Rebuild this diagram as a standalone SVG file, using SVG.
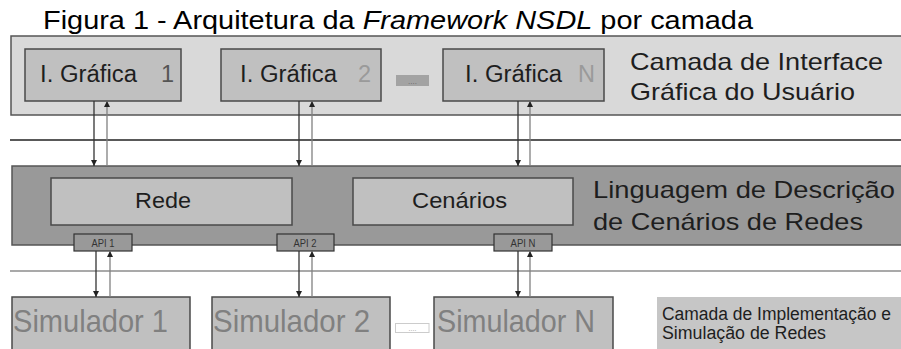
<svg xmlns="http://www.w3.org/2000/svg" width="901" height="349" viewBox="0 0 901 349">
<defs>
<style>
text{font-family:"Liberation Sans",Arial,sans-serif;}
.band{stroke:#555;stroke-width:1.5;}
.box{fill:#c0c0c0;stroke:#4a4a4a;stroke-width:1.5;}
.lbl{font-size:23.5px;fill:#1e1e1e;}
.big{font-size:24px;fill:#1e1e1e;}
.api{fill:#999;stroke:#333;stroke-width:1.2;}
.apit{font-size:11px;fill:#333;text-anchor:middle;}
.sim{font-size:32px;fill:#808080;}
.dn{stroke:#333;stroke-width:1.3;fill:none;marker-end:url(#hd);}
.up{stroke:#808080;stroke-width:1.3;fill:none;marker-end:url(#hu);}
.hl{stroke:#222;stroke-width:1.3;}
</style>
<marker id="hd" markerUnits="userSpaceOnUse" markerWidth="6" markerHeight="6" refX="6" refY="3" orient="auto"><path d="M0,0 L6,3 L0,6 z" fill="#222"/></marker>
<marker id="hu" markerUnits="userSpaceOnUse" markerWidth="6" markerHeight="6" refX="6" refY="3" orient="auto"><path d="M0,0 L6,3 L0,6 z" fill="#222"/></marker>
</defs>
<rect width="901" height="349" fill="#fff"/>
<text id="title" x="43" y="29" font-size="26" fill="#000" textLength="710" lengthAdjust="spacingAndGlyphs">Figura 1 - Arquitetura da <tspan font-style="italic">Framework NSDL</tspan> por camada</text>

<g id="layer-gui">
<rect x="11" y="36" width="895" height="79" fill="#d9d9d9" class="band"/>
<text class="big" x="630" y="70" textLength="253" lengthAdjust="spacingAndGlyphs">Camada de Interface</text>
<text class="big" x="630" y="100" textLength="225" lengthAdjust="spacingAndGlyphs">Gráfica do Usuário</text>
</g>
<g id="gui1">
<rect class="box" x="25" y="49" width="156" height="52"/>
<text class="lbl" x="40" y="82" textLength="97" lengthAdjust="spacingAndGlyphs">I. Gráfica</text>
<text class="lbl" x="161" y="82" style="fill:#555">1</text>
</g>
<g id="gui2">
<rect class="box" x="221" y="49" width="160" height="52"/>
<text class="lbl" x="240" y="82" textLength="97" lengthAdjust="spacingAndGlyphs">I. Gráfica</text>
<text class="lbl" x="358" y="82" style="fill:#9a9a9a">2</text>
</g>
<g id="gui-dots">
<rect x="396" y="75" width="33" height="11" fill="#a3a3a3"/>
<text x="412.5" y="84" font-size="8" fill="#666" text-anchor="middle">....</text>
</g>
<g id="guiN">
<rect class="box" x="443" y="49" width="161" height="52"/>
<text class="lbl" x="465" y="82" textLength="97" lengthAdjust="spacingAndGlyphs">I. Gráfica</text>
<text class="lbl" x="578" y="82" style="fill:#9a9a9a">N</text>
</g>

<g id="layer-lang">
<rect x="12" y="166" width="894" height="79" fill="#999" class="band"/>
<text class="big" x="593" y="198" textLength="302" lengthAdjust="spacingAndGlyphs">Linguagem de Descrição</text>
<text class="big" x="593" y="230" textLength="270" lengthAdjust="spacingAndGlyphs">de Cenários de Redes</text>
</g>
<g id="rede">
<rect class="box" x="51" y="178" width="241" height="47"/>
<text class="lbl" x="135" y="208" style="font-size:22px" textLength="56" lengthAdjust="spacingAndGlyphs">Rede</text>
</g>
<g id="cenarios">
<rect class="box" x="353" y="178" width="220" height="47"/>
<text class="lbl" x="412" y="208" style="font-size:22px" textLength="95" lengthAdjust="spacingAndGlyphs">Cenários</text>
</g>
<g id="api1">
<rect class="api" x="74" y="234" width="58" height="17"/>
<text class="apit" x="103" y="246.5" textLength="23" lengthAdjust="spacingAndGlyphs">API 1</text>
</g>
<g id="api2">
<rect class="api" x="277" y="234" width="57" height="17"/>
<text class="apit" x="305" y="246.5" textLength="23" lengthAdjust="spacingAndGlyphs">API 2</text>
</g>
<g id="apiN">
<rect class="api" x="494" y="234" width="58" height="17"/>
<text class="apit" x="523" y="246.5" textLength="25" lengthAdjust="spacingAndGlyphs">API N</text>
</g>

<g id="sim1">
<rect class="box" x="12" y="297" width="178" height="56"/>
<text class="sim" x="13" y="332" textLength="155" lengthAdjust="spacingAndGlyphs">Simulador 1</text>
</g>
<g id="sim2">
<rect class="box" x="212" y="297" width="178" height="56"/>
<text class="sim" x="213" y="332" textLength="157" lengthAdjust="spacingAndGlyphs">Simulador 2</text>
</g>
<g id="sim-dots">
<rect x="395.5" y="323.5" width="33.5" height="9" fill="#fff" stroke="#ccc" stroke-width="1"/>
<text x="412.5" y="331" font-size="7" fill="#999" text-anchor="middle">....</text>
</g>
<g id="simN">
<rect class="box" x="434" y="297" width="179" height="56"/>
<text class="sim" x="437" y="332" textLength="158" lengthAdjust="spacingAndGlyphs">Simulador N</text>
</g>
<g id="layer-impl">
<rect x="657" y="297" width="250" height="56" fill="#c6c6c6"/>
<text x="662" y="320" font-size="18" fill="#1e1e1e" textLength="229" lengthAdjust="spacingAndGlyphs">Camada de Implementação e</text>
<text x="662" y="339" font-size="18" fill="#1e1e1e" textLength="164" lengthAdjust="spacingAndGlyphs">Simulação de Redes</text>
</g>

<g id="connectors">
<line class="hl" x1="10" y1="140" x2="901" y2="140"/>
<line x1="10" y1="271" x2="901" y2="271" stroke="#555" stroke-width="1.2"/>
<line class="dn" x1="94" y1="101" x2="94" y2="166"/>
<line class="up" x1="107" y1="166" x2="107" y2="101"/>
<line class="dn" x1="299" y1="101" x2="299" y2="166"/>
<line class="up" x1="312" y1="166" x2="312" y2="101"/>
<line class="dn" x1="518" y1="101" x2="518" y2="166"/>
<line class="up" x1="530" y1="166" x2="530" y2="101"/>
<line class="dn" x1="96" y1="251" x2="96" y2="297"/>
<line class="up" x1="110" y1="297" x2="110" y2="251"/>
<line class="dn" x1="299" y1="251" x2="299" y2="297"/>
<line class="up" x1="312" y1="297" x2="312" y2="251"/>
<line class="dn" x1="518" y1="251" x2="518" y2="297"/>
<line class="up" x1="530" y1="297" x2="530" y2="251"/>
</g>
</svg>
